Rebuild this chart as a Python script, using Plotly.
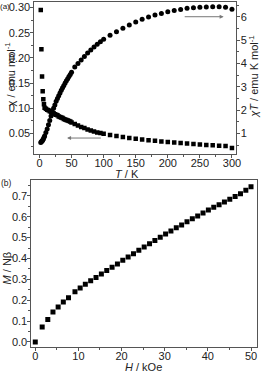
import plotly.graph_objects as go

# ---- data (a) ----
T = [2, 3, 4, 5, 6, 7, 8, 10, 12, 14, 16, 18, 20, 22, 24, 26, 28, 30, 32, 34, 36, 38, 40,
     42, 44, 46, 48, 50, 55, 60, 65, 70, 75, 80, 85, 90, 95, 100,
     110, 120, 130, 140, 150, 160, 170, 180, 190, 200, 210, 220, 230, 240, 250, 260, 270,
     280, 290, 300]
chi = [0.295, 0.217, 0.163, 0.134, 0.118, 0.108, 0.101, 0.099, 0.097, 0.096, 0.094, 0.093,
       0.091, 0.090, 0.088, 0.087, 0.086, 0.084, 0.083, 0.082, 0.081, 0.079, 0.078,
       0.077, 0.076, 0.075, 0.074, 0.072, 0.069, 0.066, 0.063, 0.061, 0.058, 0.056, 0.054,
       0.052, 0.051, 0.0495,
       0.0470, 0.0450, 0.0430, 0.0412, 0.0396, 0.0381, 0.0367, 0.0355, 0.0343, 0.0332,
       0.0322, 0.0312, 0.0302, 0.0292, 0.0283, 0.0274, 0.0265, 0.0257, 0.0250, 0.0212]
chiT = [0.62, 0.65, 0.68, 0.72, 0.77, 0.83, 0.90, 1.05, 1.20, 1.38, 1.56, 1.75, 1.92, 2.08,
        2.22, 2.38, 2.50, 2.62, 2.74, 2.85, 2.96, 3.06, 3.16, 3.26, 3.35, 3.44, 3.53, 3.62,
        3.85, 4.00, 4.15, 4.30, 4.45, 4.58, 4.70, 4.82, 4.93, 5.04,
        5.21, 5.36, 5.51, 5.65, 5.77, 5.89, 5.99, 6.07, 6.14, 6.21, 6.27, 6.31, 6.36, 6.38,
        6.41, 6.42, 6.43, 6.43, 6.41, 6.32]

# ---- data (b) ----
H = [0, 1.6, 2.9, 4.1, 5.3, 6.5, 7.7, 9.2, 10.4, 11.6, 12.84, 14.08, 15.32, 16.56, 17.8,
     19.04, 20.28, 21.52, 22.76, 24.0, 25.24, 26.48, 27.72, 28.96, 30.2, 31.44, 32.68,
     33.92, 35.16, 36.4, 37.64, 38.88, 40.12, 41.36, 42.6, 43.84, 45.08, 46.32, 47.56,
     48.8, 50.0]
M = [0.0, 0.072, 0.108, 0.143, 0.167, 0.191, 0.212, 0.240, 0.259, 0.276, 0.293, 0.309,
     0.326, 0.342, 0.358, 0.374, 0.392, 0.407, 0.423, 0.439, 0.455, 0.470, 0.486, 0.502,
     0.517, 0.532, 0.547, 0.561, 0.576, 0.590, 0.604, 0.618, 0.632, 0.645, 0.658, 0.671,
     0.684, 0.697, 0.710, 0.727, 0.744]

W, Hh = 265, 373
FONT = "Liberation Sans, Arial, sans-serif"
AX = "#555555"

fig = go.Figure()
fig.add_trace(go.Scatter(x=T, y=chi, mode="markers", xaxis="x", yaxis="y",
                         marker=dict(symbol="square", size=4.5, color="black"),
                         showlegend=False))
fig.add_trace(go.Scatter(x=T, y=chiT, mode="markers", xaxis="x", yaxis="y2",
                         marker=dict(symbol="circle", size=5, color="black"),
                         showlegend=False))
fig.add_trace(go.Scatter(x=H, y=M, mode="markers", xaxis="x2", yaxis="y3",
                         marker=dict(symbol="square", size=5, color="black"),
                         showlegend=False))

def px_x(p):
    return p / W

def px_y(p):
    return 1 - p / Hh

base = dict(showgrid=False, zeroline=False, showline=True, linecolor=AX, linewidth=1,
            ticks="outside", ticklen=3, tickcolor=AX,
            tickfont=dict(family=FONT, size=11, color="#222"))
ycommon = dict(base, ticklabelstandoff=-2)
xcommon = dict(base, ticklabelstandoff=-4)

fig.update_layout(
    width=W, height=Hh, margin=dict(l=0, r=0, t=0, b=0),
    paper_bgcolor="white", plot_bgcolor="white",
    font=dict(family=FONT, size=11, color="#222"),
    xaxis=dict(domain=[px_x(35), px_x(241)], range=[-8, 307], anchor="y",
               tickvals=[0, 50, 100, 150, 200, 250, 300], mirror=True,
               minor=dict(ticks="outside", ticklen=2, tickcolor=AX, dtick=25), **xcommon),
    yaxis=dict(domain=[px_y(154), px_y(1)], range=[0.009, 0.311], anchor="x",
               tickvals=[0.05, 0.10, 0.15, 0.20, 0.25, 0.30], tickformat=".2f",
               minor=dict(ticks="outside", ticklen=2, tickcolor=AX, dtick=0.025), **ycommon),
    yaxis2=dict(domain=[px_y(154), px_y(1)], range=[0.12, 6.63], anchor="x", overlaying="y",
                side="right", tickvals=[1, 2, 3, 4, 5, 6],
                minor=dict(ticks="outside", ticklen=2, tickcolor=AX, dtick=0.5), **ycommon),
    xaxis2=dict(domain=[px_x(32), px_x(262)], range=[-0.9, 51.4], anchor="y3",
                tickvals=[0, 10, 20, 30, 40, 50], mirror=True,
                minor=dict(ticks="outside", ticklen=2, tickcolor=AX, dtick=5), **xcommon),
    yaxis3=dict(domain=[px_y(348), px_y(180)], range=[-0.025, 0.776], anchor="x2",
                tickvals=[0.0, 0.1, 0.2, 0.3, 0.4, 0.5, 0.6, 0.7], tickformat=".1f",
                mirror=True,
                minor=dict(ticks="outside", ticklen=2, tickcolor=AX, dtick=0.05), **ycommon),
)

ann = []
def label(text, x, y, angle=0, size=11):
    ann.append(dict(text=text, x=px_x(x), y=px_y(y), xref="paper", yref="paper",
                    showarrow=False, textangle=angle, xanchor="center", yanchor="middle",
                    font=dict(family=FONT, size=size, color="#222")))

label("(a)", 5.5, 6, size=8)
label("(b)", 7, 183, size=8.5)
label("<i>T</i> / K", 129, 173.5)
label("χ / emu mol<sup>-1</sup>", 10, 74, angle=-90)
label("<i>χT</i> / emu K mol<sup>-1</sup>", 258, 76, angle=-90)
label("<i>H</i> / kOe", 146, 367.5)
label("<i>M</i> / Nβ", 7, 268, angle=-90)

# arrows
ann.append(dict(x=43, y=0.041, ax=98, ay=0.041, xref="x", yref="y", axref="x", ayref="y",
                showarrow=True, arrowhead=2, arrowsize=0.8, arrowwidth=1, arrowcolor="#777", text=""))
ann.append(dict(x=287, y=6.0, ax=224, ay=6.0, xref="x", yref="y2", axref="x", ayref="y2",
                showarrow=True, arrowhead=2, arrowsize=0.8, arrowwidth=1, arrowcolor="#777", text=""))
fig.update_layout(annotations=ann)

fig.write_html("out.html", config={"displayModeBar": False},
               post_script="document.body.style.margin='0';")
